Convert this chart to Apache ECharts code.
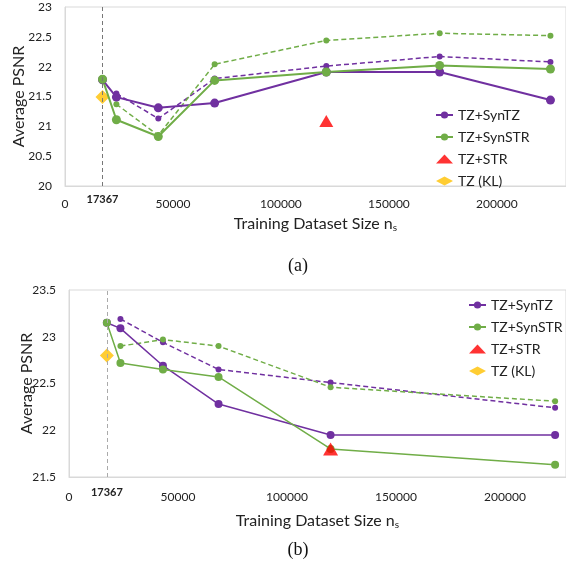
<!DOCTYPE html>
<html>
<head>
<meta charset="utf-8">
<script src="https://cdn.jsdelivr.net/npm/echarts@6/dist/echarts.min.js"></script>
<style>
  html, body { margin: 0; padding: 0; background: #fff; }
  #chart { width: 566px; height: 564px; }
</style>
</head>
<body>
<div id="chart"></div>
<script>
// ---- data (a) ----
const xA = [17367, 23800, 43200, 69300, 121000, 173500, 224800]
const synTzA = [21.78, 21.49, 21.31, 21.39, 21.91, 21.91, 21.44]
const synTzDashA = [null, 21.55, 21.13, 21.80, 22.01, 22.17, 22.08]
const synStrA = [21.79, 21.11, 20.83, 21.77, 21.91, 22.02, 21.96]
const synStrDashA = [null, 21.37, 20.85, 22.04, 22.44, 22.56, 22.52]
const strA = [[121000, 21.09]]
const klA = [[17367, 21.49]]

// ---- data (b) ----
const xB = [17367, 23600, 43100, 68600, 120000, 223000]
const synTzB = [23.15, 23.09, 22.69, 22.28, 21.95, 21.95]
const synTzDashB = [null, 23.19, 22.94, 22.65, 22.51, 22.24]
const synStrB = [23.15, 22.72, 22.65, 22.57, 21.80, 21.63]
const synStrDashB = [null, 22.90, 22.97, 22.90, 22.46, 22.31]
const strB = [[120000, 21.80]]
const klB = [[17367, 22.80]]

const refX = 17367
const legendNames = ['TZ+SynTZ', 'TZ+SynSTR', 'TZ+STR', 'TZ (KL)']

const PURPLE = '#7030A0'
const GREEN = '#70AD47'
const RED = '#FF0000'
const GOLD = '#FFC000'
const FONT = 'Lato'

// zip x with y, skip missing points
function pts (xs, ys) {
  return xs.map((x, i) => [x, ys[i]]).filter(p => p[1] != null)
}

function lineSeries (name, idx, xs, ys, color, dashed, lw, size) {
  return {
    name: name,
    type: 'line',
    xAxisIndex: idx,
    yAxisIndex: idx,
    data: pts(xs, ys),
    symbol: 'circle',
    symbolSize: size,
    color: color,
    lineStyle: { color: color, width: lw, type: dashed ? [5, 3] : 'solid' },
    itemStyle: { color: color },
    z: dashed ? 2 : 3,
    animation: false
  }
}

function xAxisCfg (idx, max, margin, gap) {
  return {
    type: 'value',
    gridIndex: idx,
    min: 0,
    max: max,
    interval: 50000,
    splitLine: { show: false },
    axisTick: { show: false },
    axisLine: { lineStyle: { color: '#d9d9d9' } },
    axisLabel: { color: '#222', fontFamily: FONT, fontSize: 12, margin: margin, showMaxLabel: false, formatter: v => String(v) },
    name: 'Training Dataset Size n{s|s}',
    nameLocation: 'middle',
    nameGap: gap,
    nameMoveOverlap: false,
    nameTextStyle: {
      color: '#222', fontFamily: FONT, fontSize: 16,
      rich: { s: { fontFamily: FONT, fontSize: 10, color: '#222', padding: [9, 0, 0, 0] } }
    }
  }
}

function yAxisCfg (idx, min, max, gap) {
  return {
    type: 'value',
    gridIndex: idx,
    min: min,
    max: max,
    interval: 0.5,
    splitLine: { show: false },
    axisTick: { show: false },
    axisLine: { show: true, lineStyle: { color: '#d9d9d9' } },
    axisLabel: { color: '#222', fontFamily: FONT, fontSize: 12, margin: 13 },
    name: 'Average PSNR',
    nameLocation: 'middle',
    nameGap: gap,
    nameMoveOverlap: false,
    nameTextStyle: { color: '#222', fontFamily: FONT, fontSize: 16 }
  }
}

function refLine (color, dist) {
  return {
    silent: true,
    symbol: 'none',
    lineStyle: { color: color, type: [4, 3], width: 1 },
    label: { show: true, position: 'start', formatter: String(refX), color: '#222', fontFamily: FONT, fontSize: 11, fontWeight: 'bold', distance: dist },
    data: [{ xAxis: refX }]
  }
}

function legendCfg (left, top) {
  return {
    left: left,
    top: top,
    orient: 'vertical',
    data: legendNames,
    itemWidth: 17,
    itemHeight: 9,
    itemGap: 8,
    textStyle: { fontFamily: FONT, fontSize: 14, color: '#222' },
    selectedMode: false
  }
}

const chart = echarts.init(document.getElementById('chart'))
chart.setOption({
  animation: false,
  backgroundColor: '#fff',
  title: [
    { text: '(a)', left: 293, top: 252, textAlign: 'center', textStyle: { fontFamily: 'Liberation Serif', fontSize: 18, fontWeight: 'normal', color: '#111' } },
    { text: '(b)', left: 293, top: 536, textAlign: 'center', textStyle: { fontFamily: 'Liberation Serif', fontSize: 18, fontWeight: 'normal', color: '#111' } }
  ],
  grid: [
    { left: 65, top: 7, right: -2, height: 179, show: true, borderColor: '#d9d9d9', borderWidth: 1 },
    { left: 69, top: 290, right: -2, height: 187, show: true, borderColor: '#d9d9d9', borderWidth: 1 }
  ],
  legend: [legendCfg(430, 103), legendCfg(463, 293)],
  xAxis: [xAxisCfg(0, 232000, 12, 28), xAxisCfg(1, 228000, 14, 34)],
  yAxis: [yAxisCfg(0, 20, 23, 38), yAxisCfg(1, 21.5, 23.5, 34)],
  series: [
    lineSeries('TZ+SynTZ dashed', 0, xA, synTzDashA, PURPLE, true, 1.5, 6),
    lineSeries('TZ+SynSTR dashed', 0, xA, synStrDashA, GREEN, true, 1.5, 6),
    lineSeries('TZ+SynTZ', 0, xA, synTzA, PURPLE, false, 2, 9),
    lineSeries('TZ+SynSTR', 0, xA, synStrA, GREEN, false, 2, 9),
    { name: 'TZ+STR', type: 'scatter', xAxisIndex: 0, yAxisIndex: 0, data: strA, symbol: 'triangle', symbolSize: [14, 12], itemStyle: { color: RED }, z: 4 },
    { name: 'TZ (KL)', type: 'scatter', xAxisIndex: 0, yAxisIndex: 0, data: klA, symbol: 'diamond', symbolSize: 14, itemStyle: { color: GOLD }, z: 1, markLine: refLine('#777', 8) },

    lineSeries('TZ+SynTZ dashed', 1, xB, synTzDashB, PURPLE, true, 1.5, 6),
    lineSeries('TZ+SynSTR dashed', 1, xB, synStrDashB, GREEN, true, 1.5, 6),
    lineSeries('TZ+SynTZ', 1, xB, synTzB, PURPLE, false, 1.5, 8),
    lineSeries('TZ+SynSTR', 1, xB, synStrB, GREEN, false, 1.5, 8),
    { name: 'TZ+STR', type: 'scatter', xAxisIndex: 1, yAxisIndex: 1, data: strB, symbol: 'triangle', symbolSize: [15, 13], itemStyle: { color: RED }, z: 4 },
    { name: 'TZ (KL)', type: 'scatter', xAxisIndex: 1, yAxisIndex: 1, data: klB, symbol: 'diamond', symbolSize: 14, itemStyle: { color: GOLD }, z: 1, markLine: refLine('#aaa', 10) }
  ]
})
</script>
</body>
</html>
